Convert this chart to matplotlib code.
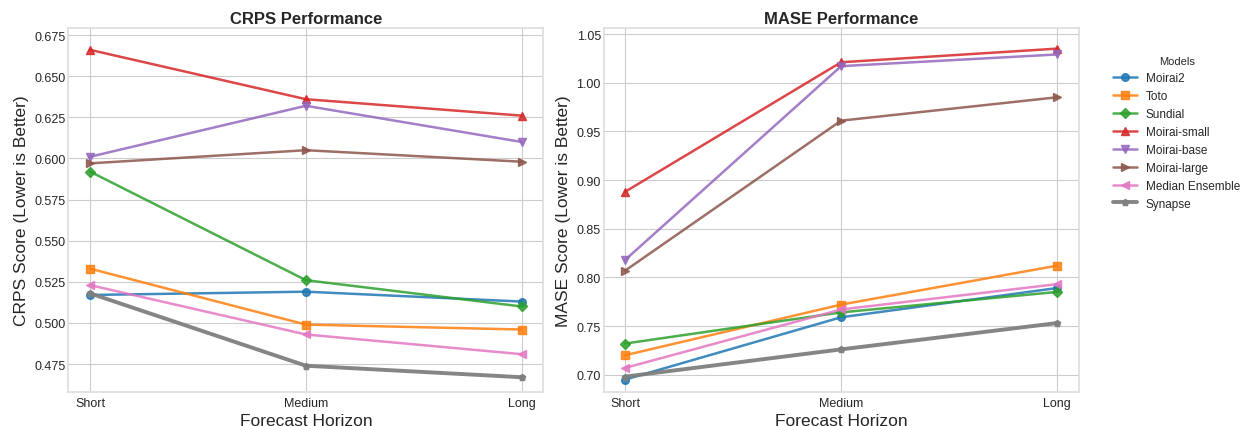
import matplotlib
matplotlib.use("Agg")
import matplotlib.pyplot as plt

plt.style.use("seaborn-v0_8-whitegrid")
plt.rcParams["font.family"] = ["Liberation Sans", "DejaVu Sans"]

horizons = ["Short", "Medium", "Long"]
models = ["Moirai2", "Toto", "Sundial", "Moirai-small", "Moirai-base",
          "Moirai-large", "Median Ensemble", "Synapse"]
markers = ["o", "s", "D", "^", "v", ">", "<", "p"]

crps = {
    "Moirai2": [0.517, 0.519, 0.513],
    "Toto": [0.533, 0.499, 0.496],
    "Sundial": [0.592, 0.526, 0.510],
    "Moirai-small": [0.666, 0.636, 0.626],
    "Moirai-base": [0.601, 0.632, 0.610],
    "Moirai-large": [0.597, 0.605, 0.598],
    "Median Ensemble": [0.523, 0.493, 0.481],
    "Synapse": [0.518, 0.474, 0.467],
}
mase = {
    "Moirai2": [0.695, 0.759, 0.789],
    "Toto": [0.720, 0.772, 0.812],
    "Sundial": [0.732, 0.764, 0.785],
    "Moirai-small": [0.888, 1.021, 1.035],
    "Moirai-base": [0.818, 1.017, 1.029],
    "Moirai-large": [0.807, 0.961, 0.985],
    "Median Ensemble": [0.707, 0.767, 0.793],
    "Synapse": [0.698, 0.726, 0.753],
}
ylims = {"CRPS": (0.4582, 0.6791), "MASE": (0.6825, 1.0559)}

fig, axes = plt.subplots(1, 2, figsize=(12.44, 4.27), dpi=100)
fig.subplots_adjust(left=0.055, right=0.867, bottom=0.0803, top=0.9314, wspace=0.127)

colors = plt.rcParams["axes.prop_cycle"].by_key()["color"]
for ax, data, metric in [(axes[0], crps, "CRPS"), (axes[1], mase, "MASE")]:
    for i, m in enumerate(models):
        if m == "Synapse":
            ax.plot(horizons, data[m], marker=markers[i], color="#7f7f7f",
                    lw=2.8, ms=5, label=m, alpha=0.95)
        else:
            ax.plot(horizons, data[m], marker=markers[i], color=colors[i],
                    lw=1.8, ms=5.5, label=m, alpha=0.85)
    ax.set_ylim(*ylims[metric])
    ax.set_title(f"{metric} Performance", fontsize=12, fontweight="bold", pad=4)
    ax.set_xlabel("Forecast Horizon", fontsize=12.5, labelpad=3)
    ax.set_ylabel(f"{metric} Score (Lower is Better)", fontsize=12.5, labelpad=4)
    ax.tick_params(labelsize=9, pad=2)
    ax.tick_params(axis="x", pad=4)
    for s in ax.spines.values():
        s.set_visible(True)
        s.set_color("#dddddd")
        s.set_linewidth(1.2)

axes[1].legend(title="Models", loc="upper left", bbox_to_anchor=(1.05, 0.952),
               fontsize=8.5, title_fontsize=8, frameon=False)

fig.savefig("out.png", dpi=100)
